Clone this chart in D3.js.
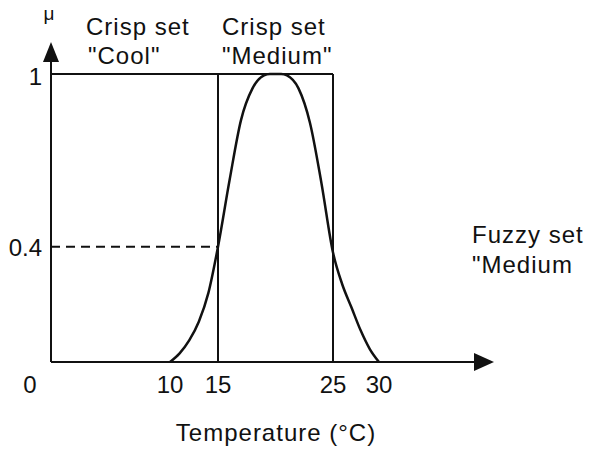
<!DOCTYPE html>
<html><head><meta charset="utf-8">
<script src="https://cdn.jsdelivr.net/npm/d3@7"></script>
<style>body{margin:0;background:#fff}svg{display:block}text{font-family:"Liberation Sans",Arial,sans-serif;fill:#111}</style>
</head><body>
<script>
// Data
const xTicks = [0, 10, 15, 25, 30];
const xTickLabels = ["0", "10", "15", "25", "30"];
const yTicks = [1, 0.4];
const yTickLabels = ["1", "0.4"];
const crispCool = [0, 15];
const crispMedium = [15, 25];
const cutLevel = 0.4;
const fuzzyT  = [10, 11, 12, 13, 14, 15, 16, 17, 18, 19, 19.5, 20, 20.5, 21, 22, 23, 24, 25, 26, 27, 28, 29, 30];
const fuzzyMu = [0, 0.03, 0.075, 0.14, 0.24, 0.4, 0.63, 0.84, 0.95, 0.995, 1, 1, 1, 0.995, 0.95, 0.83, 0.62, 0.38, 0.27, 0.19, 0.11, 0.045, 0];

const W = 589, H = 450;
const svg = d3.select("body").append("svg").attr("width", W).attr("height", H);

// Schematic axis (hand-drawn figure: piecewise scale)
const x = d3.scaleLinear().domain([0, 10, 15, 25, 30]).range([51, 170, 218, 333, 379]);
const y = d3.scaleLinear().domain([0, 1]).range([362, 74]);
const xAxisEnd = 494, yAxisEnd = 42;

const g = svg.append("g").attr("stroke", "#111").attr("fill", "none");

// axes
g.append("line").attr("x1", x(0)).attr("x2", xAxisEnd - 18).attr("y1", y(0)).attr("y2", y(0)).attr("stroke-width", 2);
g.append("line").attr("x1", x(0)).attr("x2", x(0)).attr("y1", y(0)).attr("y2", yAxisEnd + 18).attr("stroke-width", 2);
svg.append("path").attr("fill", "#111")
  .attr("d", `M${xAxisEnd},${y(0)} L${xAxisEnd - 20},${y(0) - 9} L${xAxisEnd - 20},${y(0) + 9} Z`);
svg.append("path").attr("fill", "#111")
  .attr("d", `M${x(0)},${yAxisEnd} L${x(0) - 8},${yAxisEnd + 20} L${x(0) + 8},${yAxisEnd + 20} Z`);

// crisp sets
g.append("line").attr("x1", x(crispCool[0])).attr("x2", x(crispMedium[1])).attr("y1", y(1)).attr("y2", y(1)).attr("stroke-width", 2);
[crispCool[1], crispMedium[1]].forEach(v => {
  g.append("line").attr("x1", x(v)).attr("x2", x(v)).attr("y1", y(0)).attr("y2", y(1)).attr("stroke-width", 2);
});

// dashed cut level
g.append("line").attr("x1", x(0)).attr("x2", x(crispCool[1])).attr("y1", y(cutLevel)).attr("y2", y(cutLevel))
  .attr("stroke-width", 2).attr("stroke-dasharray", "9,6");

// fuzzy curve
const pts = fuzzyT.map((t, i) => [t, fuzzyMu[i]]);
g.append("path").datum(pts)
  .attr("d", d3.line().x(d => x(d[0])).y(d => y(d[1])).curve(d3.curveMonotoneX))
  .attr("stroke-width", 2.5);

// labels
const fs = 24;
function txt(s, X, Y, anchor, size) {
  return svg.append("text").attr("x", X).attr("y", Y).attr("font-size", size || fs)
    .attr("text-anchor", anchor || "start").text(s);
}
xTicks.forEach((v, i) => {
  txt(xTickLabels[i], v === 0 ? x(v) - 21 : x(v), 393, "middle");
});
yTicks.forEach((v, i) => {
  txt(yTickLabels[i], 42, y(v) + (v === 1 ? 11 : 9), "end");
});
txt("μ", 49, 20, "middle", 19);
txt("Crisp set", 86, 35).attr("letter-spacing", 1);
txt("\"Cool\"", 88, 64).attr("letter-spacing", 1);
txt("Crisp set", 222, 35).attr("letter-spacing", 1);
txt("\"Medium\"", 222, 64).attr("letter-spacing", 1);
txt("Fuzzy set", 472, 243).attr("letter-spacing", 1);
txt("\"Medium", 472, 273).attr("letter-spacing", 1);
txt("Temperature (°C)", 276, 441, "middle").attr("letter-spacing", 1);
</script>
</body></html>
